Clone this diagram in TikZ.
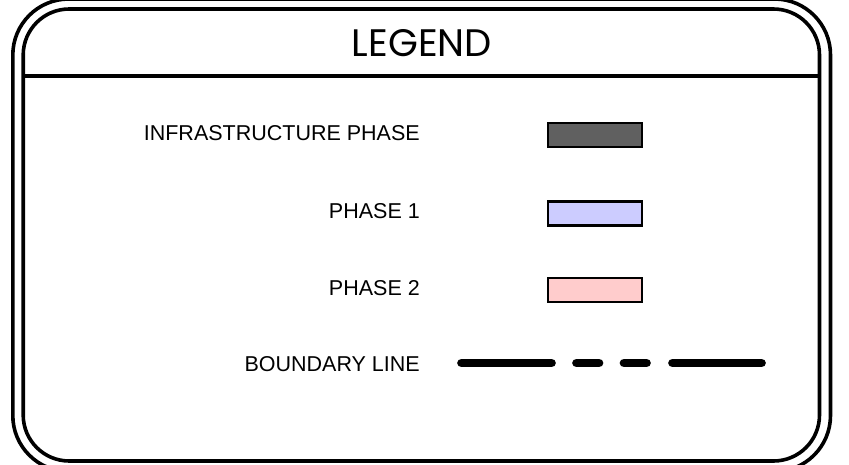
\documentclass[tikz,border=0pt]{standalone}
\usepackage{fontspec}
\usepackage{graphicx}
\setmainfont{Liberation Sans}
\newfontfamily\titlefont{Poppins}
\definecolor{infra}{HTML}{606060}
\definecolor{phaseone}{HTML}{CCCCFF}
\definecolor{phasetwo}{HTML}{FFCCCC}
\begin{document}
\begin{tikzpicture}[x=1pt,y=-1pt,
  frame/.style={line width=3.6pt},
  lbl/.style={anchor=east,inner sep=0pt,font=\fontsize{21.5}{24}\selectfont},
  swatch/.style={draw=black,line width=2.6pt,minimum width=94pt,minimum height=24pt,inner sep=0pt},
  boundary/.style={line width=8.7pt,line cap=round,dash pattern=on 90pt off 25pt on 22.5pt off 25pt on 22.5pt off 26pt on 90pt off 200pt}]
\useasboundingbox (0,0) rectangle (849,464);
% double rounded frame
\draw[frame,rounded corners=56pt] (12.8,-1) rectangle (830.5,471.5);
\draw[frame,rounded corners=46pt] (23.2,9) rectangle (819.5,461);
\draw[frame] (23.2,76) -- (819.5,76);
% title
\node[inner sep=0pt] (title) at (422,43.5) {\titlefont\resizebox{140pt}{27pt}{LEGEND}};
% rows
\node[lbl] (l1) at (420,133) {INFRASTRUCTURE PHASE};
\node[lbl] (l2) at (420,211) {PHASE 1};
\node[lbl] (l3) at (420,288) {PHASE 2};
\node[lbl] (l4) at (420,364) {BOUNDARY LINE};
\node[swatch,fill=infra] (s1) at (595,135) {};
\node[swatch,fill=phaseone] (s2) at (595,213.5) {};
\node[swatch,fill=phasetwo] (s3) at (595,290) {};
\coordinate (b1) at (461.5,363);
\coordinate (b2) at (761.5,363);
\draw[boundary] (b1) -- (b2);
\end{tikzpicture}
\end{document}
